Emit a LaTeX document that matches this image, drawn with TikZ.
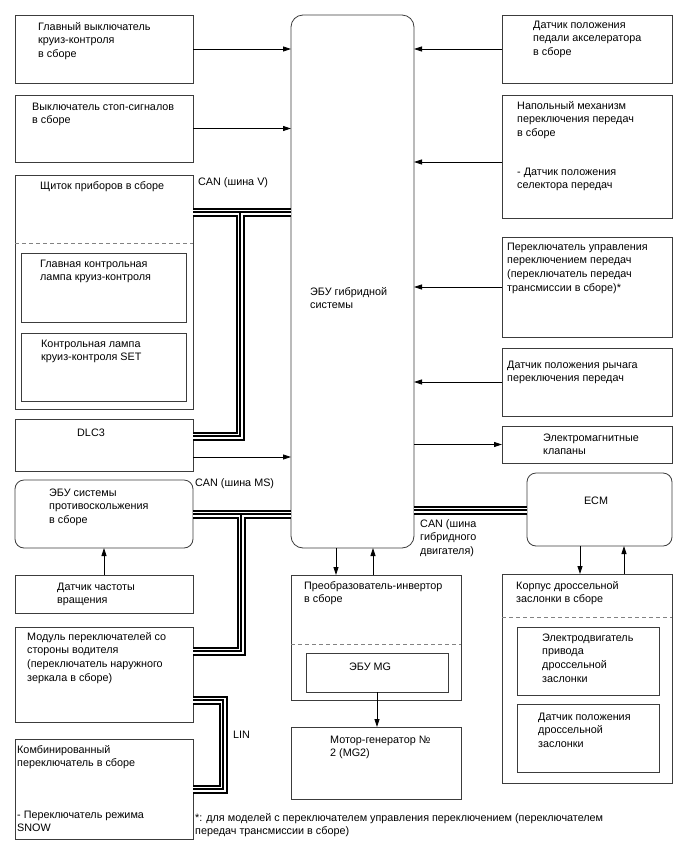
\documentclass[tikz,border=0pt]{standalone}
\usepackage{fontspec}
\setmainfont{Liberation Sans}
\usetikzlibrary{arrows.meta}
\definecolor{lc}{RGB}{60,60,60}
\definecolor{dc}{RGB}{130,130,130}
\begin{document}
\begin{tikzpicture}[x=1pt,y=-1pt,
  box/.style={draw=lc, line width=0.8pt, anchor=north west, inner sep=0pt, outer sep=0pt},
  rbox/.style={box, rounded corners=9pt},
  txt/.style={anchor=base west, align=left, inner sep=0pt, font=\fontsize{10.8}{13.8}\selectfont},
  arr/.style={draw=black, line width=0.8pt, -{Triangle[length=8pt,width=5pt]}},
  dline/.style={draw=dc, line width=0.8pt, dash pattern=on 4pt off 3pt},
  bus/.style={draw=black, line width=1.6pt, preaction={draw,black,line width=9pt}, preaction={draw,white,line width=5pt}}
]
\useasboundingbox (0,0) rectangle (688,852);
\fill[white] (0,0) rectangle (688,852);

% left column
\node[box, minimum width=178pt, minimum height=68pt] (b1) at (15,15) {};
\node[box, minimum width=178pt, minimum height=67pt] (b2) at (15,95) {};
\node[box, minimum width=178pt, minimum height=234pt] (inst) at (15,175) {};
\node[box, minimum width=165pt, minimum height=69pt] (inst1) at (21,253) {};
\node[box, minimum width=165pt, minimum height=68pt] (inst2) at (21,333) {};
\node[box, minimum width=178pt, minimum height=52pt] (dlc) at (15,419) {};
\node[rbox, minimum width=178pt, minimum height=68pt] (abs) at (15,480) {};
\node[box, minimum width=178pt, minimum height=38pt] (spd) at (15,575) {};
\node[box, minimum width=178pt, minimum height=95pt] (mod) at (15,627) {};
\node[box, minimum width=178pt, minimum height=100pt] (comb) at (15,739) {};

% centre column
\node[rbox, rounded corners=12pt, minimum width=123pt, minimum height=533pt] (ecu) at (291,15) {};
\node[box, minimum width=170pt, minimum height=125pt] (inv) at (291,575) {};
\node[box, minimum width=142pt, minimum height=39pt] (mg) at (306,653) {};
\node[box, minimum width=170pt, minimum height=72pt] (mg2) at (291,727) {};

% right column
\node[box, minimum width=170pt, minimum height=68pt] (r1) at (502,15) {};
\node[box, minimum width=170pt, minimum height=123pt] (r2) at (502,95) {};
\node[box, minimum width=170pt, minimum height=100pt] (r3) at (502,237) {};
\node[box, minimum width=170pt, minimum height=68pt] (r4) at (502,348) {};
\node[box, minimum width=170pt, minimum height=37pt] (r5) at (502,426) {};
\node[rbox, minimum width=145pt, minimum height=73pt] (ecm) at (527,473) {};
\node[box, minimum width=170pt, minimum height=209pt] (thr) at (502,574) {};
\node[box, minimum width=142pt, minimum height=68pt] (thr1) at (517,627) {};
\node[box, minimum width=142pt, minimum height=68pt] (thr2) at (517,704) {};

% dashed separators
\draw[dline] (inst.west |- 0,243) -- (inst.east |- 0,243);
\draw[dline] (inv.west |- 0,644) -- (inv.east |- 0,644);
\draw[dline] (thr.west |- 0,617) -- (thr.east |- 0,617);

% texts (anchor = baseline of the last line)
\node[txt] (t1) at (38,57.6) {Главный выключатель\\круиз-контроля\\в сборе};
\node[txt] (t2) at (32,123.8) {Выключатель стоп-сигналов\\в сборе};
\node[txt] (t3) at (40,189) {Щиток приборов в сборе};
\node[txt] (t4) at (40,280.8) {Главная контрольная\\лампа круиз-контроля};
\node[txt] (t5) at (41,360.8) {Контрольная лампа\\круиз-контроля SET};
\node[txt] (t6) at (77,436) {DLC3};
\node[txt] (t7) at (49,523.6) {ЭБУ системы\\противоскольжения\\в сборе};
\node[txt] (t8) at (57,603.8) {Датчик частоты\\вращения};
\node[txt] (t9) at (27,681.4) {Модуль переключателей со\\стороны водителя\\(переключатель наружного\\зеркала в сборе)};
\node[txt] (t10) at (17,766.8) {Комбинированный\\переключатель в сборе};
\node[txt] (t11) at (17,831.8) {- Переключатель режима\\SNOW};
\node[txt] (t12) at (310,308.8) {ЭБУ гибридной\\системы};
\node[txt] (t13) at (198,185) {CAN (шина V)};
\node[txt] (t14) at (195,486) {CAN (шина MS)};
\node[txt] (t15) at (420,554.6) {CAN (шина\\гибридного\\двигателя)};
\node[txt] (t16) at (233,738) {LIN};
\node[txt] (t17) at (304,602.8) {Преобразователь-инвертор\\в сборе};
\node[txt] (t18) at (349,670) {ЭБУ MG};
\node[txt] (t19) at (330,756.8) {Мотор-генератор №\\2 (MG2)};
\node[txt] (t20) at (533,55.6) {Датчик положения\\педали акселератора\\в сборе};
\node[txt] (t21) at (517,136.6) {Напольный механизм\\переключения передач\\в сборе};
\node[txt] (t22) at (517,188.8) {- Датчик положения\\селектора передач};
\node[txt] (t23) at (507,291.4) {Переключатель управления\\переключением передач\\(переключатель передач\\трансмиссии в сборе)*};
\node[txt] (t24) at (507,381.8) {Датчик положения рычага\\переключения передач};
\node[txt] (t25) at (543,454.8) {Электромагнитные\\клапаны};
\node[txt, anchor=base] (t26) at (596,504) {ECM};
\node[txt] (t27) at (516,602.8) {Корпус дроссельной\\заслонки в сборе};
\node[txt] (t28) at (542,682.4) {Электродвигатель\\привода\\дроссельной\\заслонки};
\node[txt] (t29) at (538,747.6) {Датчик положения\\дроссельной\\заслонки};
\node[txt] (t30) at (195,834.8) {*: для моделей с переключателем управления переключением (переключателем\\передач трансмиссии в сборе)};

% arrows into / out of ECU
\draw[arr] (b1.east) -- (b1.east -| ecu.west);
\draw[arr] (b2.east) -- (b2.east -| ecu.west);
\draw[arr] ([yshift=-12pt]dlc.east) -- ([yshift=-12pt]dlc.east -| ecu.west);
\draw[arr] (r1.west) -- (r1.west -| ecu.east);
\draw[arr] ([yshift=-5.5pt]r2.west) -- ([yshift=-5.5pt]r2.west -| ecu.east);
\draw[arr] (r3.west) -- (r3.west -| ecu.east);
\draw[arr] (r4.west) -- (r4.west -| ecu.east);
\draw[arr] (r5.west -| ecu.east) -- (r5.west);
\draw[arr] ([xshift=-16.5pt]ecu.south) -- ([xshift=-40pt]inv.north);
\draw[arr] ([xshift=-3pt]inv.north) -- ([xshift=20.5pt]ecu.south);
\draw[arr] (mg.south) -- (mg.south |- mg2.north);
\draw[arr] ([xshift=-19.5pt]ecm.south) -- ([xshift=-7pt]thr.north);
\draw[arr] ([xshift=37pt]thr.north) -- ([xshift=24.5pt]ecm.south);
\draw[arr] (spd.north) -- (spd.north |- abs.south);

% buses
\coordinate (jV) at (240,212);
\coordinate (dlcB) at (193,436);
\draw[bus] (jV -| inst.east) -- (jV -| ecu.west) (jV) -- (jV |- dlcB) -- (dlcB);
\coordinate (jM) at (241,514);
\coordinate (modB) at (193,651);
\draw[bus] (jM -| abs.east) -- (jM -| ecu.west) (jM) -- (jM |- modB) -- (modB);
\coordinate (hB) at (414,510);
\draw[bus] (hB) -- (hB -| ecm.west);
\coordinate (lA) at (193,700);
\coordinate (lC) at (223,700);
\coordinate (lB) at (193,789);
\draw[bus] (lA) -- (lC) -- (lC |- lB) -- (lB);
\end{tikzpicture}
\end{document}
